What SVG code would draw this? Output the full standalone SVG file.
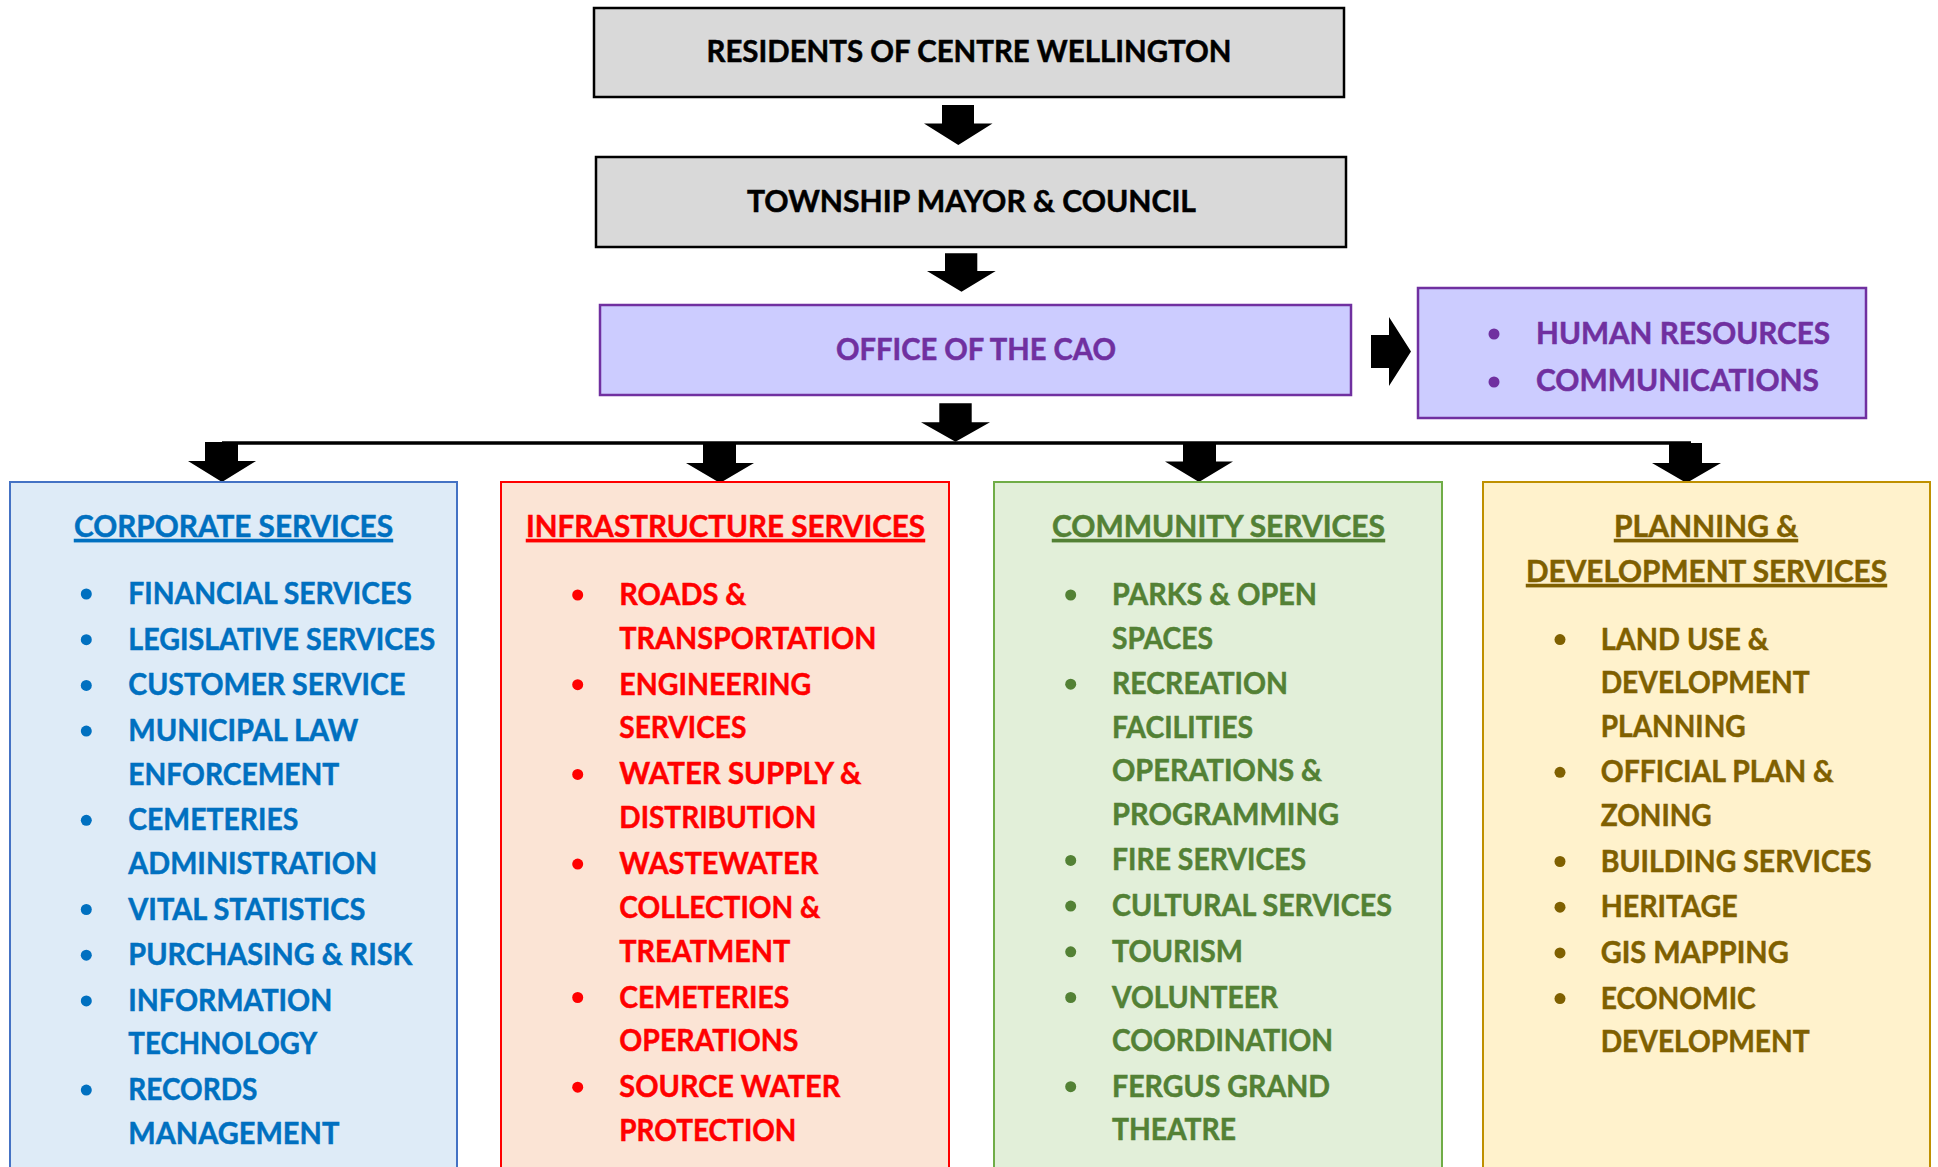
<svg xmlns="http://www.w3.org/2000/svg" width="1938" height="1167" viewBox="0 0 1938 1167">
<style>
text{font-family:Lato,"Open Sans","Liberation Sans",sans-serif;font-weight:700;stroke-width:0.5}
.top{font-size:30px;fill:#000;stroke:#000}
.pur{font-size:30px;fill:#7030a0;stroke:#7030a0}
.it{font-size:31px}
.ttl{font-size:31px;text-decoration:underline}
.blue{fill:#0070c0;stroke:#0070c0}.red{fill:#ff0000;stroke:#ff0000}.grn{fill:#538135;stroke:#538135}.gold{fill:#7f6000;stroke:#7f6000}
.arrow{fill:#000}
</style>
<rect width="1938" height="1167" fill="#fff"/>
<g id="connectors">
<line x1="222" y1="443" x2="1691" y2="443" stroke="#000" stroke-width="3.5"/>
<polygon class="arrow" points="942,105 974,105 974,123.5 992.5,123.5 958.3,145 924,123.5 942,123.5"/>
<polygon class="arrow" points="945,253.3 977.3,253.3 977.3,271 995.7,271 961.5,291.7 927,271 945,271"/>
<polygon class="arrow" points="939.3,403.3 971.7,403.3 971.7,422.3 990,422.3 955.5,441.7 921,422.3 939.3,422.3"/>
<polygon class="arrow" points="205,442 238,442 238,461 256,461 222,482 188,461 205,461"/>
<polygon class="arrow" points="703,443 736,443 736,463 754,463 720,483 686,463 703,463"/>
<polygon class="arrow" points="1183,443 1216,443 1216,461.5 1233,461.5 1199,482 1165,461.5 1183,461.5"/>
<polygon class="arrow" points="1669,443 1702,443 1702,463 1721,463 1686.5,483 1652,463 1669,463"/>
<polygon class="arrow" points="1371,335 1389,335 1389,317 1411,351.5 1389,386 1389,368 1371,368"/>
</g>
<g id="residents">
<rect x="594" y="8" width="750" height="89" fill="#d9d9d9" stroke="#000" stroke-width="2.5"/>
<text class="top" x="706.5" y="62" textLength="525" lengthAdjust="spacingAndGlyphs">RESIDENTS OF CENTRE WELLINGTON</text>
</g>
<g id="council">
<rect x="596" y="157" width="750" height="90" fill="#d9d9d9" stroke="#000" stroke-width="2.5"/>
<text class="top" x="747" y="212" textLength="449" lengthAdjust="spacingAndGlyphs">TOWNSHIP MAYOR &amp; COUNCIL</text>
</g>
<g id="cao">
<rect x="600" y="305" width="751" height="90" fill="#ccccff" stroke="#7030a0" stroke-width="2.5"/>
<text class="pur" x="836" y="360" textLength="280" lengthAdjust="spacingAndGlyphs">OFFICE OF THE CAO</text>
</g>
<g id="hr">
<rect x="1418" y="288" width="448" height="130" fill="#ccccff" stroke="#7030a0" stroke-width="2.5"/>
<circle cx="1494" cy="334" r="5.5" fill="#7030a0"/>
<circle cx="1494" cy="382" r="5.5" fill="#7030a0"/>
<text class="pur" x="1536" y="344" textLength="294" lengthAdjust="spacingAndGlyphs">HUMAN RESOURCES</text>
<text class="pur" x="1536" y="391" textLength="283" lengthAdjust="spacingAndGlyphs">COMMUNICATIONS</text>
</g>
<g id="corporate">
<rect x="10" y="482" width="447" height="720" fill="#deebf7" stroke="#4472c4" stroke-width="2"/>
<text class="ttl blue" x="74" y="537" textLength="319" lengthAdjust="spacingAndGlyphs">CORPORATE SERVICES</text>
<g fill="#0070c0" transform="translate(0,1)">
<circle cx="86.3" cy="593" r="5.5"/><circle cx="86.3" cy="638.7" r="5.5"/><circle cx="86.3" cy="684.4" r="5.5"/><circle cx="86.3" cy="730.1" r="5.5"/><circle cx="86.3" cy="819.3" r="5.5"/><circle cx="86.3" cy="908.5" r="5.5"/><circle cx="86.3" cy="954.2" r="5.5"/><circle cx="86.3" cy="999.9" r="5.5"/><circle cx="86.3" cy="1089.1" r="5.5"/>
</g>
<g class="it blue" transform="translate(0,1)">
<text x="128.3" y="603" textLength="283.5" lengthAdjust="spacingAndGlyphs">FINANCIAL SERVICES</text>
<text x="128.3" y="648.7" textLength="307" lengthAdjust="spacingAndGlyphs">LEGISLATIVE SERVICES</text>
<text x="128.3" y="694.4" textLength="277" lengthAdjust="spacingAndGlyphs">CUSTOMER SERVICE</text>
<text x="128.3" y="740.1" textLength="230" lengthAdjust="spacingAndGlyphs">MUNICIPAL LAW</text>
<text x="128.3" y="783.6" textLength="211" lengthAdjust="spacingAndGlyphs">ENFORCEMENT</text>
<text x="128.3" y="829.3" textLength="170" lengthAdjust="spacingAndGlyphs">CEMETERIES</text>
<text x="128.3" y="872.8" textLength="249" lengthAdjust="spacingAndGlyphs">ADMINISTRATION</text>
<text x="128.3" y="918.5" textLength="237" lengthAdjust="spacingAndGlyphs">VITAL STATISTICS</text>
<text x="128.3" y="964.2" textLength="284" lengthAdjust="spacingAndGlyphs">PURCHASING &amp; RISK</text>
<text x="128.3" y="1009.9" textLength="204" lengthAdjust="spacingAndGlyphs">INFORMATION</text>
<text x="128.3" y="1053.4" textLength="189" lengthAdjust="spacingAndGlyphs">TECHNOLOGY</text>
<text x="128.3" y="1099.1" textLength="129" lengthAdjust="spacingAndGlyphs">RECORDS</text>
<text x="128.3" y="1142.6" textLength="211" lengthAdjust="spacingAndGlyphs">MANAGEMENT</text>
</g>
</g>
<g id="infrastructure">
<rect x="501" y="482" width="448" height="720" fill="#fbe4d5" stroke="#ff0000" stroke-width="2"/>
<text class="ttl red" x="526" y="537" textLength="399" lengthAdjust="spacingAndGlyphs">INFRASTRUCTURE SERVICES</text>
<g fill="#ff0000" transform="translate(0,1)">
<circle cx="577.7" cy="594" r="5.5"/><circle cx="577.7" cy="683.7" r="5.5"/><circle cx="577.7" cy="773.4" r="5.5"/><circle cx="577.7" cy="863.1" r="5.5"/><circle cx="577.7" cy="996.5" r="5.5"/><circle cx="577.7" cy="1086.2" r="5.5"/>
</g>
<g class="it red" transform="translate(0,1)">
<text x="619.3" y="604" textLength="127" lengthAdjust="spacingAndGlyphs">ROADS &amp;</text>
<text x="619.3" y="647.7" textLength="257" lengthAdjust="spacingAndGlyphs">TRANSPORTATION</text>
<text x="619.3" y="693.7" textLength="192" lengthAdjust="spacingAndGlyphs">ENGINEERING</text>
<text x="619.3" y="737.4" textLength="127" lengthAdjust="spacingAndGlyphs">SERVICES</text>
<text x="619.3" y="783.4" textLength="242" lengthAdjust="spacingAndGlyphs">WATER SUPPLY &amp;</text>
<text x="619.3" y="827.1" textLength="197" lengthAdjust="spacingAndGlyphs">DISTRIBUTION</text>
<text x="619.3" y="873.1" textLength="199" lengthAdjust="spacingAndGlyphs">WASTEWATER</text>
<text x="619.3" y="916.8" textLength="201" lengthAdjust="spacingAndGlyphs">COLLECTION &amp;</text>
<text x="619.3" y="960.5" textLength="171" lengthAdjust="spacingAndGlyphs">TREATMENT</text>
<text x="619.3" y="1006.5" textLength="170" lengthAdjust="spacingAndGlyphs">CEMETERIES</text>
<text x="619.3" y="1050.2" textLength="179" lengthAdjust="spacingAndGlyphs">OPERATIONS</text>
<text x="619.3" y="1096.2" textLength="221" lengthAdjust="spacingAndGlyphs">SOURCE WATER</text>
<text x="619.3" y="1139.9" textLength="177" lengthAdjust="spacingAndGlyphs">PROTECTION</text>
</g>
</g>
<g id="community">
<rect x="994" y="482" width="448" height="720" fill="#e2efd9" stroke="#70ad47" stroke-width="2"/>
<text class="ttl grn" x="1052" y="537" textLength="333" lengthAdjust="spacingAndGlyphs">COMMUNITY SERVICES</text>
<g fill="#538135" transform="translate(0,1)">
<circle cx="1070.7" cy="594" r="5.5"/><circle cx="1070.7" cy="683.2" r="5.5"/><circle cx="1070.7" cy="859.4" r="5.5"/><circle cx="1070.7" cy="905.1" r="5.5"/><circle cx="1070.7" cy="950.8" r="5.5"/><circle cx="1070.7" cy="996.5" r="5.5"/><circle cx="1070.7" cy="1085.7" r="5.5"/>
</g>
<g class="it grn" transform="translate(0,1)">
<text x="1112" y="604" textLength="205" lengthAdjust="spacingAndGlyphs">PARKS &amp; OPEN</text>
<text x="1112" y="647.5" textLength="101" lengthAdjust="spacingAndGlyphs">SPACES</text>
<text x="1112" y="693.2" textLength="176" lengthAdjust="spacingAndGlyphs">RECREATION</text>
<text x="1112" y="736.7" textLength="141" lengthAdjust="spacingAndGlyphs">FACILITIES</text>
<text x="1112" y="780.2" textLength="210" lengthAdjust="spacingAndGlyphs">OPERATIONS &amp;</text>
<text x="1112" y="823.7" textLength="227" lengthAdjust="spacingAndGlyphs">PROGRAMMING</text>
<text x="1112" y="869.4" textLength="194" lengthAdjust="spacingAndGlyphs">FIRE SERVICES</text>
<text x="1112" y="915.1" textLength="280" lengthAdjust="spacingAndGlyphs">CULTURAL SERVICES</text>
<text x="1112" y="960.8" textLength="131" lengthAdjust="spacingAndGlyphs">TOURISM</text>
<text x="1112" y="1006.5" textLength="166" lengthAdjust="spacingAndGlyphs">VOLUNTEER</text>
<text x="1112" y="1050" textLength="221" lengthAdjust="spacingAndGlyphs">COORDINATION</text>
<text x="1112" y="1095.7" textLength="218" lengthAdjust="spacingAndGlyphs">FERGUS GRAND</text>
<text x="1112" y="1139.2" textLength="124" lengthAdjust="spacingAndGlyphs">THEATRE</text>
</g>
</g>
<g id="planning">
<rect x="1483" y="482" width="447" height="720" fill="#fff2cc" stroke="#bf9000" stroke-width="2"/>
<text class="ttl gold" x="1614" y="537" textLength="184" lengthAdjust="spacingAndGlyphs">PLANNING &amp;</text>
<text class="ttl gold" x="1526" y="582" textLength="361" lengthAdjust="spacingAndGlyphs">DEVELOPMENT SERVICES</text>
<g fill="#7f6000" transform="translate(0,1)">
<circle cx="1560" cy="638.6" r="5.5"/><circle cx="1560" cy="771.3" r="5.5"/><circle cx="1560" cy="860.5" r="5.5"/><circle cx="1560" cy="906.2" r="5.5"/><circle cx="1560" cy="951.9" r="5.5"/><circle cx="1560" cy="997.6" r="5.5"/>
</g>
<g class="it gold" transform="translate(0,1)">
<text x="1600.7" y="648.6" textLength="168" lengthAdjust="spacingAndGlyphs">LAND USE &amp;</text>
<text x="1600.7" y="692.1" textLength="209" lengthAdjust="spacingAndGlyphs">DEVELOPMENT</text>
<text x="1600.7" y="735.6" textLength="145" lengthAdjust="spacingAndGlyphs">PLANNING</text>
<text x="1600.7" y="781.3" textLength="233" lengthAdjust="spacingAndGlyphs">OFFICIAL PLAN &amp;</text>
<text x="1600.7" y="824.8" textLength="111" lengthAdjust="spacingAndGlyphs">ZONING</text>
<text x="1600.7" y="870.5" textLength="271" lengthAdjust="spacingAndGlyphs">BUILDING SERVICES</text>
<text x="1600.7" y="916.2" textLength="137" lengthAdjust="spacingAndGlyphs">HERITAGE</text>
<text x="1600.7" y="961.9" textLength="188" lengthAdjust="spacingAndGlyphs">GIS MAPPING</text>
<text x="1600.7" y="1007.6" textLength="155" lengthAdjust="spacingAndGlyphs">ECONOMIC</text>
<text x="1600.7" y="1051.1" textLength="209" lengthAdjust="spacingAndGlyphs">DEVELOPMENT</text>
</g>
</g>
</svg>
